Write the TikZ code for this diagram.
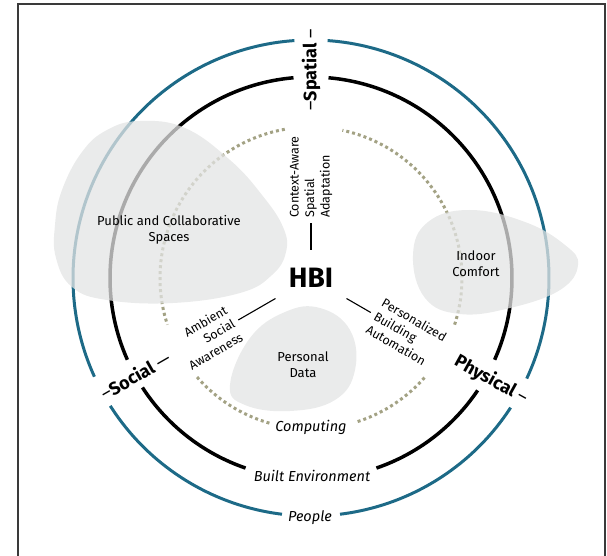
\documentclass[tikz,border=0pt]{standalone}
\usepackage{fontspec}
\setmainfont{Fira Sans}
\usetikzlibrary{positioning}
\definecolor{peopleblue}{HTML}{1D6A87}
\definecolor{dotkhaki}{HTML}{A3A284}
\definecolor{blobgray}{HTML}{E3E4E4}
\definecolor{framegray}{HTML}{3A3A3A}

\begin{document}
\begin{tikzpicture}[x=1pt, y=1pt,
  bluering/.style={draw=peopleblue, line width=3pt},
  blackring/.style={draw=black, line width=3.5pt},
  dotring/.style={draw=dotkhaki, line width=3pt, dash pattern=on 3pt off 3pt},
  ringlabel/.style={font=\fontsize{14.5}{16}\selectfont\itshape},
  axislabel/.style={font=\fontsize{18}{20}\selectfont\bfseries},
  spokelabel/.style={font=\fontsize{12.5}{15.5}\selectfont, inner sep=2pt},
  spoke/.style={line width=1.1pt, shorten >=3pt},
  blob/.style={fill=blobgray, fill opacity=0.75},
  bloblabel/.style={font=\fontsize{13}{16}\selectfont, align=center}]

\useasboundingbox (-311,-278) rectangle (296,278);
\draw[framegray, line width=1.3pt] (-293,-278) -- (-293,274) -- (294,274) -- (294,-278);

% rings, broken where the labels cross them
\foreach \a/\b in {94/204.5, 212.5/263, 277/327, 335/446}
  \draw[bluering] (\a:238pt) arc[start angle=\a, end angle=\b, radius=238pt];
\foreach \a/\b in {95/204, 213/251, 289/326, 336/445}
  \draw[blackring] (\a:201pt) arc[start angle=\a, end angle=\b, radius=201pt];
\foreach \a/\b in {100/198, 221/254, 288/319, 342/438}
  \draw[dotring] (\a:151pt) arc[start angle=\a, end angle=\b, radius=151pt];

\node[ringlabel] (computing) at (0,-149) {Computing};
\node[ringlabel] (builtenv) at (1,-198) {Built Environment};
\node[ringlabel] (people) at (-1,-240) {People};

\node[axislabel, rotate=90] (spatial) at (90:208) {\textmd{–}Spatial \textmd{–}};
\node[axislabel, rotate=30] (social) at (209:201) {\textmd{–}Social \textmd{—}};
\node[axislabel, rotate=-29] (physical) at (-29.5:207) {Physical \textmd{–}};

\node[font=\fontsize{28}{30}\selectfont\bfseries] (hbi) at (0,0) {HBI};

% spokes out of HBI
\node[spokelabel, rotate=90, anchor=west, align=left] (spatialadapt) at (90:58) {Context-Aware\\Spatial\\Adaptation};
\node[spokelabel, rotate=30, anchor=east, align=right] (socialaware) at (210:87) {Ambient\\Social\\Awareness};
\node[spokelabel, rotate=-30, anchor=west, align=left] (buildauto) at (-30:72) {Personalized\\Building\\Automation};

\draw[spoke, shorten <=28pt] (hbi.center) -- (spatialadapt);
\draw[spoke, shorten <=41pt] (hbi.center) -- (socialaware);
\draw[spoke, shorten <=41pt] (hbi.center) -- (buildauto);

% blobs
\fill[blob] plot[smooth cycle, tension=0.7] coordinates {(-171,157) (-126,150) (-81,118) (-49,83) (-28,51) (-25,26) (-39,3) (-71,-15) (-138,-25) (-204,-22) (-239,-9) (-255,20) (-256,53) (-249,88) (-229,126) (-204,148)};
\fill[blob] plot[smooth cycle, tension=0.7] coordinates {(102,23) (117,56) (159,68) (214,56) (254,33) (267,13) (249,-12) (199,-30) (149,-36) (114,-20)};
\fill[blob] plot[smooth cycle, tension=0.7] coordinates {(-81,-107) (-61,-60) (-26,-34) (9,-30) (39,-52) (44,-92) (24,-122) (-21,-133) (-66,-127)};

\node[bloblabel] (publicspaces) at (-142,48) {Public and Collaborative\\Spaces};
\node[bloblabel] (indoorcomfort) at (165,14) {Indoor\\Comfort};
\node[bloblabel] (personaldata) at (-8,-87) {Personal\\Data};
\end{tikzpicture}
\end{document}
